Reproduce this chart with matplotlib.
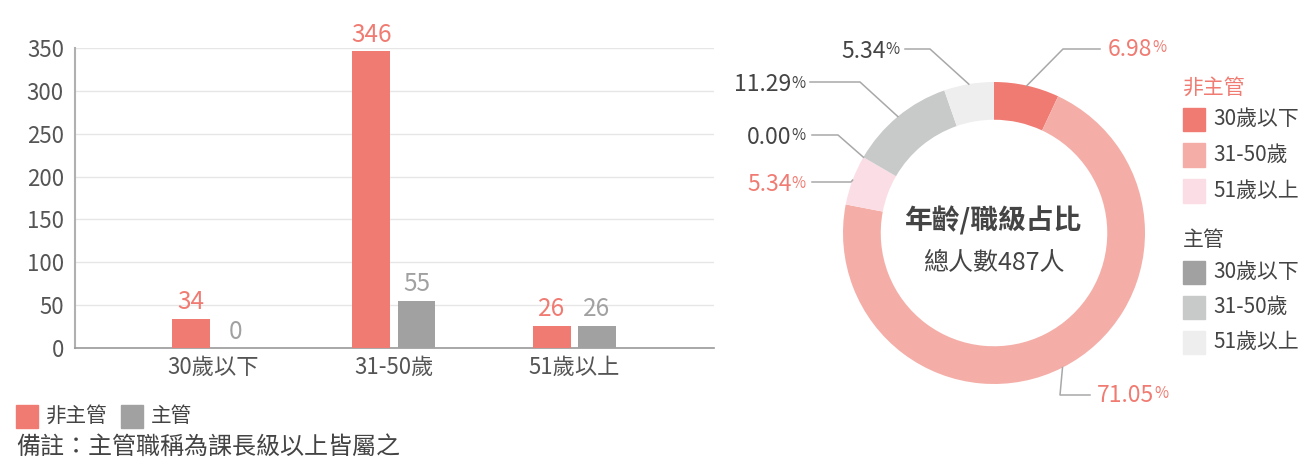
import matplotlib
matplotlib.use("Agg")
import matplotlib.pyplot as plt
from matplotlib.patches import Rectangle
from matplotlib.lines import Line2D
import numpy as np

# ---------------- data ----------------
categories = ["30歲以下", "31-50歲", "51歲以上"]
non_manager = [34, 346, 26]
manager = [0, 55, 26]
series_names = ["非主管", "主管"]
y_ticks = [0, 50, 100, 150, 200, 250, 300, 350]
total = sum(non_manager) + sum(manager)
note_text = "備註：主管職稱為課長級以上皆屬之"
donut_title = "年齡/職級占比"
donut_sub = f"總人數{total}人"

# ---------------- style ----------------
FONT = ["Noto Sans CJK TC", "DejaVu Sans"]
plt.rcParams["font.family"] = FONT
C_NM = ["#F07B72", "#F4AEA7", "#FBDEE5"]
C_M = ["#A0A1A0", "#C8CAC9", "#EEEEEE"]
TXT = "#555555"
DARK = "#444444"

W, H = 1304, 462
fig = plt.figure(figsize=(W / 100, H / 100), dpi=100)


def fx(x):
    return x / W


def fy(y):
    return 1 - y / H


# ---------------- bar chart ----------------
ax_l, ax_r, ax_t, ax_b = 75, 714, 48, 348
ax = fig.add_axes([fx(ax_l), fy(ax_b), (ax_r - ax_l) / W, (ax_b - ax_t) / H])
x = np.arange(len(categories))
bw = 0.21
off = 0.125
ax.bar(x - off, non_manager, bw, color=C_NM[0], zorder=3)
ax.bar(x + off, manager, bw, color=C_M[0], zorder=3)
for xi, v in zip(x, non_manager):
    ax.annotate(str(v), (xi - off, v), xytext=(0, 2.5), textcoords="offset points",
                ha="center", va="bottom", fontsize=17.5, color=C_NM[0])
for xi, v in zip(x, manager):
    ax.annotate(str(v), (xi + off, v), xytext=(0, 2.5), textcoords="offset points",
                ha="center", va="bottom", fontsize=17.5, color=C_M[0])
ax.set_xlim(-0.767, 2.773)
ax.set_ylim(0, 350)
ax.set_yticks(y_ticks)
ax.set_xticks(x)
ax.set_xticklabels(categories)
ax.tick_params(axis="both", length=0, labelsize=16, labelcolor=TXT)
ax.tick_params(axis="y", pad=8)
ax.tick_params(axis="x", pad=6)
ax.grid(axis="y", color="#E6E6E6", lw=1, zorder=0)
for s in ["top", "right"]:
    ax.spines[s].set_visible(False)
ax.spines["left"].set_color("#B0B0B0")
ax.spines["left"].set_linewidth(1.5)
ax.spines["bottom"].set_color("#999999")
ax.spines["bottom"].set_linewidth(1.2)

# bottom legend
leg_items = [(16, C_NM[0], series_names[0]), (121, C_M[0], series_names[1])]
for lx, col, name in leg_items:
    fig.add_artist(Rectangle((fx(lx), fy(428)), 22 / W, 23 / H, color=col,
                             transform=fig.transFigure))
    fig.text(fx(lx + 30), fy(416), name, fontsize=14.8, color=DARK,
             va="center", ha="left")
fig.text(fx(16), fy(447), note_text, fontsize=17.3, color=DARK, va="center", ha="left")

# ---------------- donut ----------------
cx, cy, R = 994, 233, 151
pax = fig.add_axes([fx(cx - R), fy(cy + R), 2 * R / W, 2 * R / H])
donut_vals = non_manager + manager
donut_cols = C_NM + C_M
is_nm = [True] * 3 + [False] * 3
wedges, _ = pax.pie(donut_vals, colors=donut_cols, startangle=90, counterclock=False,
                    radius=1, wedgeprops=dict(width=0.25, linewidth=0))
pax.set_xlim(-1, 1)
pax.set_ylim(-1, 1)
pax.set_aspect("auto")
pax.axis("off")

pax.text(0, 0.08, donut_title, ha="center", va="center", fontsize=20,
         fontweight="bold", color=DARK)
pax.text(0, -0.2, donut_sub, ha="center", va="center", fontsize=18, color=DARK)

# label layout (pixel positions of elbow / text), order matches donut_vals
elbow = [(1063, 49), (1060, 395), (851, 182), (838, 135), (860, 82), (930, 49)]
line_end_x = [1100, 1090, 812, 812, 810, 905]
text_x = [1108, 1097, 806, 806, 805, 900]
side = ["r", "r", "l", "l", "l", "l"]

pct = [v / total * 100 for v in donut_vals]
for w, p, nm, (ex, ey), lx, tx, sd in zip(wedges, pct, is_nm, elbow, line_end_x, text_x, side):
    ang = np.deg2rad((w.theta1 + w.theta2) / 2)
    ax_px = cx + R * np.cos(ang)
    ay_px = cy - R * np.sin(ang)
    line = Line2D([fx(ax_px), fx(ex), fx(lx)], [fy(ay_px), fy(ey), fy(ey)],
                  transform=fig.transFigure, color="#A8A8A8", lw=1.1)
    fig.add_artist(line)
    col = C_NM[0] if nm else DARK
    num = f"{p:.2f}"
    if sd == "r":
        t = fig.text(fx(tx), fy(ey), num, fontsize=16.5, color=col, ha="left", va="center")
        plt.annotate("%", xy=(1, 0.18), xycoords=t, ha="left", va="bottom",
                     fontsize=11, color=col, annotation_clip=False)
    else:
        pt = fig.text(fx(tx), fy(ey + 1), "%", fontsize=11, color=col, ha="right",
                      va="center")
        plt.annotate(num, xy=(0, -0.25), xycoords=pt, ha="right", va="bottom",
                     fontsize=16.5, color=col, annotation_clip=False)

# right legend
leg_x = 1183
fig.text(fx(leg_x), fy(88), series_names[0], fontsize=15, color=C_NM[0], va="center")
fig.text(fx(leg_x), fy(240), series_names[1], fontsize=15, color=DARK, va="center")
rows_nm = [119, 155, 191]
rows_m = [272, 307, 342]
for cols, rows in [(C_NM, rows_nm), (C_M, rows_m)]:
    for col, ry, cat in zip(cols, rows, categories):
        fig.add_artist(Rectangle((fx(leg_x), fy(ry + 11.5)), 22 / W, 23 / H, color=col,
                                 transform=fig.transFigure))
        fig.text(fx(1213), fy(ry), cat, fontsize=15, color=DARK, va="center", ha="left")

fig.savefig("out.png", dpi=100, facecolor="white")
